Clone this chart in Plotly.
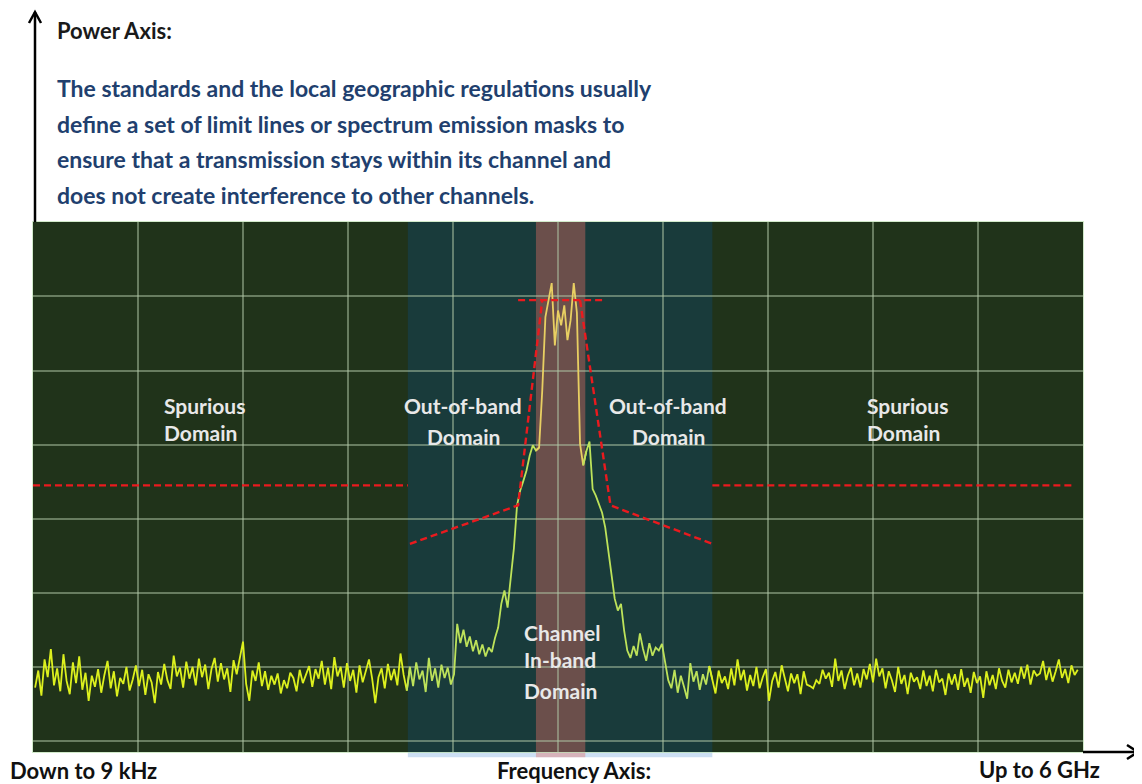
import numpy as np
import plotly.graph_objects as go

# ---------------- data ----------------
# sweep: 332 points over 10 horizontal divisions
n_points = 332
freq_div = np.linspace(0.02, 9.95, n_points)

noise_left = [
    -62.8, -60.5, -63.9, -59.0, -61.4, -57.6, -62.5, -60.2, -63.3, -58.3,
    -61.9, -63.7, -59.4, -62.2, -58.6, -63.1, -60.8, -64.6, -61.2, -62.7,
    -60.3, -63.5, -61.1, -59.2, -62.9, -60.6, -64.0, -61.5, -62.3, -60.0,
    -63.2, -61.7, -59.8, -62.6, -60.4, -63.8, -61.0, -62.1, -64.9, -60.7,
    -62.4, -59.6, -61.8, -63.0, -58.5, -61.3, -60.1, -62.8, -59.3, -61.6,
    -60.0, -62.5, -58.9, -61.4, -59.7, -63.0, -60.3, -58.8, -62.0, -59.5,
    -61.7, -60.2, -63.4, -59.1, -61.0, -58.7, -56.6, -62.3, -64.6, -60.5,
    -61.9, -59.4, -62.6, -60.6, -63.1, -61.2, -62.4, -60.9, -63.6, -61.8,
    -62.9, -60.8, -61.5, -63.3, -60.4, -62.2, -61.0, -59.9, -62.7, -60.3,
    -61.6, -59.2, -62.4, -60.1, -63.0, -58.7, -61.3, -60.0, -62.8, -59.5,
    -61.9, -60.4, -63.5, -59.8, -62.1, -60.7, -59.0, -61.6, -64.9, -61.4,
    -60.2, -62.9, -59.6, -61.8, -60.3, -62.5, -58.2, -61.1, -63.2, -60.0,
    -62.6, -59.4, -61.7, -60.5, -63.4, -58.8, -61.9, -60.2, -62.8, -59.7,
    -61.5, -60.1, -62.4,
]

# out-of-band shoulders and the in-band channel
channel_region = [
    -61.0,
    -54.2, -56.8, -55.0, -57.3, -55.9, -57.9, -56.4, -58.3, -57.0, -58.6,
    -57.4, -58.0, -56.1,
    -54.7, -51.5, -49.7, -52.0, -47.5, -44.0, -38.2, -36.2, -34.9, -33.5,
    -31.5, -30.1, -30.8, -30.4,
    -22.7, -12.8,
    -10.5, -8.2, -16.6, -11.9, -13.9, -11.2, -15.9, -13.2, -8.2, -12.2,
    -29.9, -32.8, -30.9, -29.6, -36.0, -36.9, -38.0, -39.2, -41.2, -44.3,
    -47.7, -50.8, -52.4, -51.5, -55.1, -57.8, -58.8, -57.2, -58.5, -55.5,
    -57.6, -59.2, -56.8, -58.5, -57.4, -57.8, -56.9, -59.2,
]

# right spurious region
noise_right = [
    -61.8, -62.9, -60.4, -63.5, -61.2, -62.7, -64.3, -59.5, -62.0, -60.6,
    -63.1, -61.0, -62.4, -59.9, -61.7, -63.6, -60.5, -62.2, -61.3, -63.0,
    -60.2, -62.5, -59.0, -61.8, -60.4, -63.2, -61.1, -62.6, -60.0, -62.9,
    -61.4, -60.3, -64.6, -61.9, -60.7, -62.8, -59.8, -61.5, -63.3, -60.9,
    -62.2, -61.0, -63.7, -60.6, -62.4, -62.6, -62.9, -61.8, -62.3, -60.4,
    -61.6, -60.8, -62.7, -58.9, -61.9, -60.5, -63.0, -61.2, -60.1, -62.5,
    -60.9, -62.8, -60.3, -61.7, -59.6, -62.1, -58.9, -61.3, -60.2, -62.9,
    -60.6, -61.8, -63.4, -60.0, -62.3, -61.1, -63.7, -60.8, -62.0, -61.4,
    -63.0, -60.5, -62.6, -61.2, -63.3, -60.4, -62.1, -61.6, -63.8, -60.9,
    -62.4, -61.0, -63.1, -60.3, -62.7, -61.5, -63.5, -60.7, -62.2, -61.3,
    -64.2, -60.6, -62.5, -61.1, -63.0, -60.2, -61.9, -62.8, -60.4, -62.1,
    -60.8, -62.3, -60.0, -61.6, -59.7, -62.4, -60.5, -61.2, -60.9, -59.2,
    -61.8, -60.1, -62.0, -60.6, -59.0, -61.5, -60.3, -62.2, -59.8, -61.1,
    -60.4,
]

power_dbm = np.array(noise_left + channel_region + noise_right)

# limit lines / spectrum emission mask (x in divisions, y in dBm)
spur_left_x = [0.0, 3.57]
spur_left_y = [-35.5, -35.5]
spur_right_x = [6.47, 9.92]
spur_right_y = [-35.5, -35.5]
mask_left_x = [3.59, 4.62, 4.85]
mask_left_y = [-43.4, -38.2, -10.5]
mask_top_x = [4.62, 5.42]
mask_top_y = [-10.5, -10.5]
mask_right_x = [5.21, 5.50, 6.47]
mask_right_y = [-10.5, -38.2, -43.4]

# domain boundaries (divisions)
oob_edges = [3.57, 6.47]
channel_edges = [4.79, 5.26]

paragraph_lines = [
    "The standards and the local geographic regulations usually",
    "define a set of limit lines or spectrum emission masks to",
    "ensure that a transmission stays within its channel and",
    "does not create interference to other channels.",
]

# ---------------- layout helpers ----------------
OFF = 8                      # page body margin of the html page
W, H = 1142 - OFF, 784 - OFF
L, R, T, B = 33, 1083, 222, 752   # plot area in window pixels


def px(xp):
    return (xp - L) / (R - L)


def py(yp):
    return (B - yp) / (B - T)


fig = go.Figure()

# spectrum trace, coloured per domain (tint of the overlaid domain bands)
region_colors = ["#dcf01e", "#bde25a", "#e8cf62", "#bde25a", "#dcf01e"]
bounds = [-np.inf, oob_edges[0], channel_edges[0], channel_edges[1], oob_edges[1], np.inf]
for k in range(5):
    idx = np.where((freq_div >= bounds[k]) & (freq_div < bounds[k + 1]))[0]
    lo = max(idx[0] - 1, 0)
    hi = min(idx[-1] + 2, n_points)
    fig.add_trace(go.Scatter(
        x=freq_div[lo:hi], y=power_dbm[lo:hi], mode="lines",
        line=dict(color=region_colors[k], width=1.8), hoverinfo="skip",
        showlegend=False))

red = dict(color="#ea1a1e", width=2.4, dash="7px,4px")
for xs, ys in [(spur_left_x, spur_left_y), (spur_right_x, spur_right_y),
               (mask_left_x, mask_left_y), (mask_top_x, mask_top_y),
               (mask_right_x, mask_right_y)]:
    fig.add_trace(go.Scatter(x=xs, y=ys, mode="lines", line=red,
                             hoverinfo="skip", showlegend=False))

shapes = [
    dict(type="rect", xref="x", yref="paper", x0=oob_edges[0], x1=oob_edges[1],
         y0=-0.01, y1=1, fillcolor="rgba(2,96,196,0.2)", line=dict(width=0),
         layer="between"),
    dict(type="rect", xref="x", yref="paper", x0=channel_edges[0], x1=channel_edges[1],
         y0=-0.01, y1=1, fillcolor="rgba(231,110,100,0.4)", line=dict(width=0),
         layer="between"),
    # axis arrows
    dict(type="line", xref="paper", yref="paper", x0=px(35), x1=px(35),
         y0=py(222), y1=py(12), line=dict(color="black", width=2.5)),
    dict(type="path", xref="paper", yref="paper",
         path=f"M {px(29)},{py(23)} L {px(35)},{py(12)} L {px(41)},{py(23)}",
         line=dict(color="black", width=2.5)),
    dict(type="line", xref="paper", yref="paper", x0=px(1083), x1=px(1138),
         y0=py(752), y1=py(752), line=dict(color="black", width=2.5)),
    dict(type="path", xref="paper", yref="paper",
         path=f"M {px(1127)},{py(745)} L {px(1138)},{py(752)} L {px(1127)},{py(759)}",
         line=dict(color="black", width=2.5)),
]

ann = []


def text(s, xp, yp, anchor="left", size=21, color="#e8e8e8", bold=True, family="Lato"):
    ann.append(dict(
        text=f"<b>{s}</b>" if bold else s, x=px(xp), y=py(yp), xref="paper", yref="paper",
        xanchor=anchor, yanchor="middle", showarrow=False,
        font=dict(family=family, size=size, color=color)))


text("Power Axis:", 55, 30, size=22, color="#1a1a1a")
for i, line in enumerate(paragraph_lines):
    text(line, 55, 88 + i * 35.7, size=23, color="#213f6e")

text("Spurious", 162, 405)
text("Domain", 162, 432)
text("Spurious", 865, 405)
text("Domain", 865, 432)
text("Out-of-band", 463, 405, anchor="center")
text("Domain", 463, 436, anchor="center")
text("Out-of-band", 668, 405, anchor="center")
text("Domain", 668, 436, anchor="center")
text("Channel", 522, 632)
text("In-band", 522, 659)
text("Domain", 522, 690)

text("Down to 9 kHz", OFF, 770, size=22, color="#111111")
text("Frequency Axis:", 574, 770, anchor="center", size=22, color="#111111")
text("Up to 6 GHz", 977, 769, size=22, color="#111111")

grid = "rgba(175,200,165,0.5)"
fig.update_layout(
    width=W, height=H, autosize=False,
    margin=dict(l=L - OFF, r=W - (R - OFF), t=T - OFF, b=H - (B - OFF), pad=0),
    paper_bgcolor="white", plot_bgcolor="#20331a",
    shapes=shapes, annotations=ann, showlegend=False,
    xaxis=dict(range=[0, 10], dtick=1, tick0=0, showgrid=True, gridcolor=grid,
               gridwidth=1.5, zeroline=False, showticklabels=False, ticks="",
               showline=True, linecolor="rgba(190,225,180,0.7)", linewidth=1, mirror=True),
    yaxis=dict(range=[-71.5, 0.05], dtick=10, tick0=0, showgrid=True, gridcolor=grid,
               gridwidth=1.5, zeroline=False, showticklabels=False, ticks="",
               showline=True, linecolor="rgba(190,225,180,0.7)", linewidth=1, mirror=True),
)

fig.write_html("out.html")
